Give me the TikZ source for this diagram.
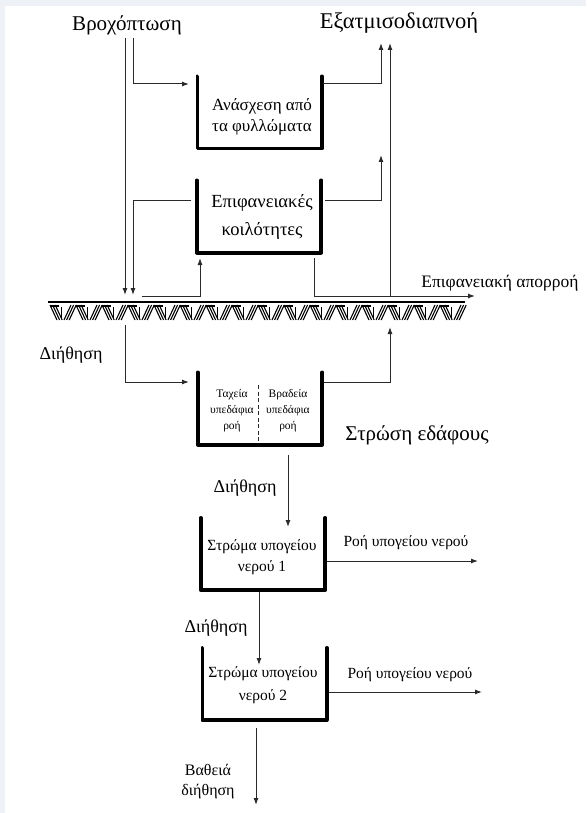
\documentclass[tikz,border=0pt]{standalone}
\usepackage{fontspec}
\setmainfont{Liberation Serif}
\usetikzlibrary{arrows.meta}
\definecolor{pagebg}{HTML}{EEF2F7}
\definecolor{ink}{HTML}{2A2A2A}

\begin{document}
\begin{tikzpicture}[x=1pt, y=-1pt,
    big/.style={font=\fontsize{21}{24}\selectfont, inner sep=0pt},
    lbl/.style={font=\fontsize{15.5}{21}\selectfont, align=center, inner sep=0pt},
    inf/.style={font=\fontsize{18}{20}\selectfont, inner sep=0pt},
    sml/.style={font=\fontsize{11.5}{16}\selectfont, align=center, inner sep=0pt},
    tank/.style={minimum width=124pt, minimum height=72pt, inner sep=0pt},
    wall/.style={line width=3.6pt, line cap=round, line join=round},
    flow/.style={draw=ink, line width=1pt, -{Latex[length=7pt,width=5pt]}},
    hatch/.style={line width=1.1pt}]
  \useasboundingbox (0,0) rectangle (586,813);
  \fill[pagebg] (0,0) rectangle (586,813);
  \fill[white] (5,6) rectangle (586,813);

  % tanks
  \node[tank] (ans)  at (259.5,112.5) {};
  \node[tank] (koil) at (259,216.5) {};
  \node[tank] (edaf) at (260,408.5) {};
  \node[tank] (ypo1) at (263,554) {};
  \node[tank] (ypo2) at (264.5,684) {};
  \foreach \t in {ans,koil,edaf,ypo1,ypo2}
    \draw[wall] (\t.north west) -- (\t.south west) -- (\t.south east) -- (\t.north east);
  \draw[ink, line width=0.8pt, dash pattern=on 4pt off 2.5pt] (258,385) -- (258,443);

  \node[lbl, font=\fontsize{17}{21}\selectfont] (ansT) at (262,117) {Ανάσχεση από\\τα φυλλώματα};
  \node[lbl, font=\fontsize{18.5}{22}\selectfont] (koilT) at (262,217) {Επιφανειακές\\[6pt]κοιλότητες};
  \node[sml] (tax)   at (232,411) {Ταχεία\\υπεδάφια\\ροή};
  \node[sml] (vrad)  at (288,411) {Βραδεία\\υπεδάφια\\ροή};
  \node[lbl] (ypo1T) at (262,557) {Στρώμα υπογείου\\νερού 1};
  \node[lbl] (ypo2T) at (263,685) {Στρώμα υπογείου\\[2pt]νερού 2};

  % labels
  \node[big] (rain) at (127,25) {Βροχόπτωση};
  \node[big, font=\fontsize{22.5}{25}\selectfont] (evap) at (399,23) {Εξατμισοδιαπνοή};
  \node[big] (soil) at (417,435) {Στρώση εδάφους};
  \node[lbl, font=\fontsize{17.5}{21}\selectfont] (runoff) at (500,283) {Επιφανειακή απορροή};
  \node[inf] (inf1) at (71,355) {Διήθηση};
  \node[inf] (inf2) at (245,488) {Διήθηση};
  \node[inf] (inf3) at (216,628) {Διήθηση};
  \node[lbl] (gw1) at (406,543) {Ροή υπογείου νερού};
  \node[lbl] (gw2) at (410,675) {Ροή υπογείου νερού};
  \node[lbl, font=\fontsize{16}{20}\selectfont] (deep) at (208,782) {Βαθειά\\διήθηση};

  % ground
  \draw[line width=1.8pt] (48,302) -- (465,302);
  \foreach \i in {0,...,15} {
    \pgfmathsetmacro\xo{50+26*\i}
    \draw[hatch] (\xo,306) -- ++(9,0);
    \foreach \k in {0,2.6,5.2}
      \draw[hatch] (\xo+\k,305) -- ++(7,15) (\xo+14+\k,320) -- ++(7,-15);
    \draw[hatch] (\xo+11.5,307) -- ++(0,12);
  }

  % flows
  \coordinate (rainL) at (125,38);
  \coordinate (rainR) at (133,38);
  \draw[flow] (rainL) -- (125,295);
  \draw[flow] (rainR) -- (133,84) -- (189,84);
  \draw[flow] (323,84) -- (381,84) -- (381,43);
  \draw[flow] (390,296) -- (390,43);
  \draw[flow] (191,200) -- (133,200) -- (133,295);
  \draw[flow] (325,200) -- (381,200) -- (381,155);
  \draw[flow] (142,296) -- (200,296) -- (200,258);
  \draw[flow] (314,258) -- (314,296) -- (475,296);
  \draw[flow] (125,325) -- (125,382) -- (189,382);
  \draw[flow] (324,382) -- (390,382) -- (390,327);
  \draw[flow] (288,455) -- (288,527);
  \draw[flow] (327,561) -- (478,561);
  \draw[flow] (259,592) -- (259,665);
  \draw[flow] (329,692) -- (482,692);
  \draw[flow] (256,728) -- (256,805);
\end{tikzpicture}
\end{document}
